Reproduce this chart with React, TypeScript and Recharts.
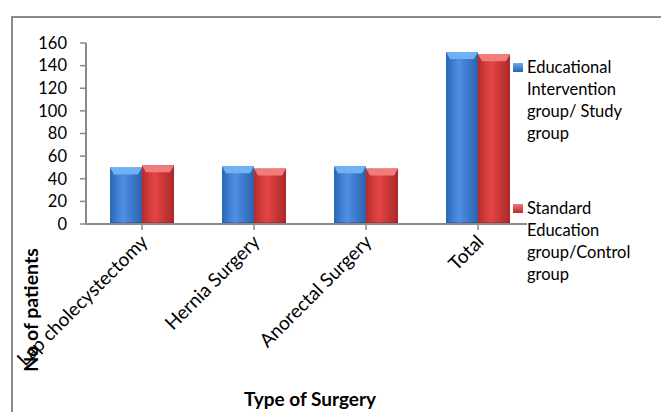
import React from "react";
import { BarChart, Bar, XAxis, YAxis } from "recharts";

const categories = ["Lap cholecystectomy", "Hernia Surgery", "Anorectal Surgery", "Total"];
const studyValues = [50, 51, 51, 152];
const controlValues = [52, 49, 49, 150];
const yTicks = [0, 20, 40, 60, 80, 100, 120, 140, 160];
const seriesNames = [
  "Educational Intervention group/ Study group",
  "Standard Education group/Control group",
];
const legendLines = [
  ["Educational", "Intervention", "group/ Study", "group"],
  ["Standard", "Education", "group/Control", "group"],
];

const data = categories.map((c, i) => ({
  name: c,
  study: studyValues[i],
  control: controlValues[i],
}));

const FONT = "Lato, 'Noto Sans', sans-serif";

const makeShape = (grad: string, top: string) => (props: any) => {
  const { x, y, width, height } = props;
  if (!height || height <= 0) return null;
  const b = Math.min(7, height / 2);
  return (
    <g>
      <rect x={x} y={y} width={width} height={height} fill={`url(#${grad})`} />
      <polygon
        points={`${x},${y} ${x + width},${y} ${x + width - 4},${y + b} ${x + 4},${y + b}`}
        fill={top}
      />
      <rect x={x} y={y + height - 2} width={width} height={2} fill="rgba(0,0,0,0.15)" />
    </g>
  );
};

const XTick = (props: any) => {
  const { x, y, payload } = props;
  const ax = x + 7;
  const ay = y + 11;
  return (
    <text
      x={ax}
      y={ay}
      textAnchor="end"
      fontSize={19}
      fontFamily={FONT}
      fill="#000"
      transform={`rotate(-45, ${ax}, ${ay})`}
    >
      {payload.value}
    </text>
  );
};

export default function App() {
  return (
    <div style={{ position: "absolute", left: 0, top: 0, width: 661, height: 412, background: "#fff", overflow: "hidden" }}>
      <div
        style={{
          position: "absolute",
          left: 11,
          top: 16,
          width: 700,
          height: 450,
          borderLeft: "2px solid #8a8a8a",
          borderTop: "2px solid #8a8a8a",
        }}
      />
      <div style={{ position: "absolute", left: 0, top: 0 }}>
        <BarChart
          width={661}
          height={412}
          data={data}
          margin={{ top: 43, right: 127, bottom: 0, left: 0 }}
          barCategoryGap={24}
          barGap={0}
        >
          <defs>
            <linearGradient id="blueGrad" x1="0" y1="0" x2="1" y2="0">
              <stop offset="0%" stopColor="#2c66b8" />
              <stop offset="40%" stopColor="#4d90e6" />
              <stop offset="100%" stopColor="#2d62ac" />
            </linearGradient>
            <linearGradient id="redGrad" x1="0" y1="0" x2="1" y2="0">
              <stop offset="0%" stopColor="#b82b2b" />
              <stop offset="40%" stopColor="#e34646" />
              <stop offset="100%" stopColor="#aa2727" />
            </linearGradient>
          </defs>
          <XAxis
            dataKey="name"
            interval={0}
            tick={<XTick />}
            tickLine={{ stroke: "#8a8a8a", strokeWidth: 1.5 }}
            axisLine={{ stroke: "#8a8a8a", strokeWidth: 2 }}
            tickSize={6}
            height={188}
          />
          <YAxis
            width={86}
            domain={[0, 160]}
            ticks={yTicks}
            interval={0}
            tickSize={6}
            tickMargin={13}
            tick={{ fontSize: 16.5, fontFamily: FONT, fill: "#000" }}
            tickLine={{ stroke: "#8a8a8a", strokeWidth: 1.5 }}
            axisLine={{ stroke: "#8a8a8a", strokeWidth: 2 }}
          />
          <Bar dataKey="study" name={seriesNames[0]} shape={makeShape("blueGrad", "#70b0f4")} isAnimationActive={false} />
          <Bar dataKey="control" name={seriesNames[1]} shape={makeShape("redGrad", "#f27c7c")} isAnimationActive={false} />
        </BarChart>
      </div>
      {[0, 1].map((i) => (
        <div
          key={i}
          style={{
            position: "absolute",
            left: 513,
            top: i === 0 ? 56 : 197,
            fontFamily: FONT,
            fontSize: 16.5,
            lineHeight: "22px",
            color: "#000",
            display: "flex",
          }}
        >
          <div
            style={{
              width: 10,
              height: 9,
              marginTop: 7,
              marginRight: 4,
              background: i === 0 ? "linear-gradient(#6aaaf0, #2a62b0)" : "linear-gradient(#f07a7a, #b52a2a)",
            }}
          />
          <div style={{ background: "#fff" }}>
            {legendLines[i].map((l, j) => (
              <div key={j}>{l}</div>
            ))}
          </div>
        </div>
      ))}
      <div
        style={{
          position: "absolute",
          left: 30,
          top: 310,
          transform: "translate(-50%, -50%) rotate(-90deg)",
          fontFamily: FONT,
          fontWeight: "bold",
          fontSize: 19.5,
          whiteSpace: "nowrap",
        }}
      >
        No of patients
      </div>
      <div
        style={{
          position: "absolute",
          left: 310,
          top: 398,
          transform: "translate(-50%, -50%)",
          fontFamily: FONT,
          fontWeight: "bold",
          fontSize: 19,
          whiteSpace: "nowrap",
        }}
      >
        Type of Surgery
      </div>
    </div>
  );
}
